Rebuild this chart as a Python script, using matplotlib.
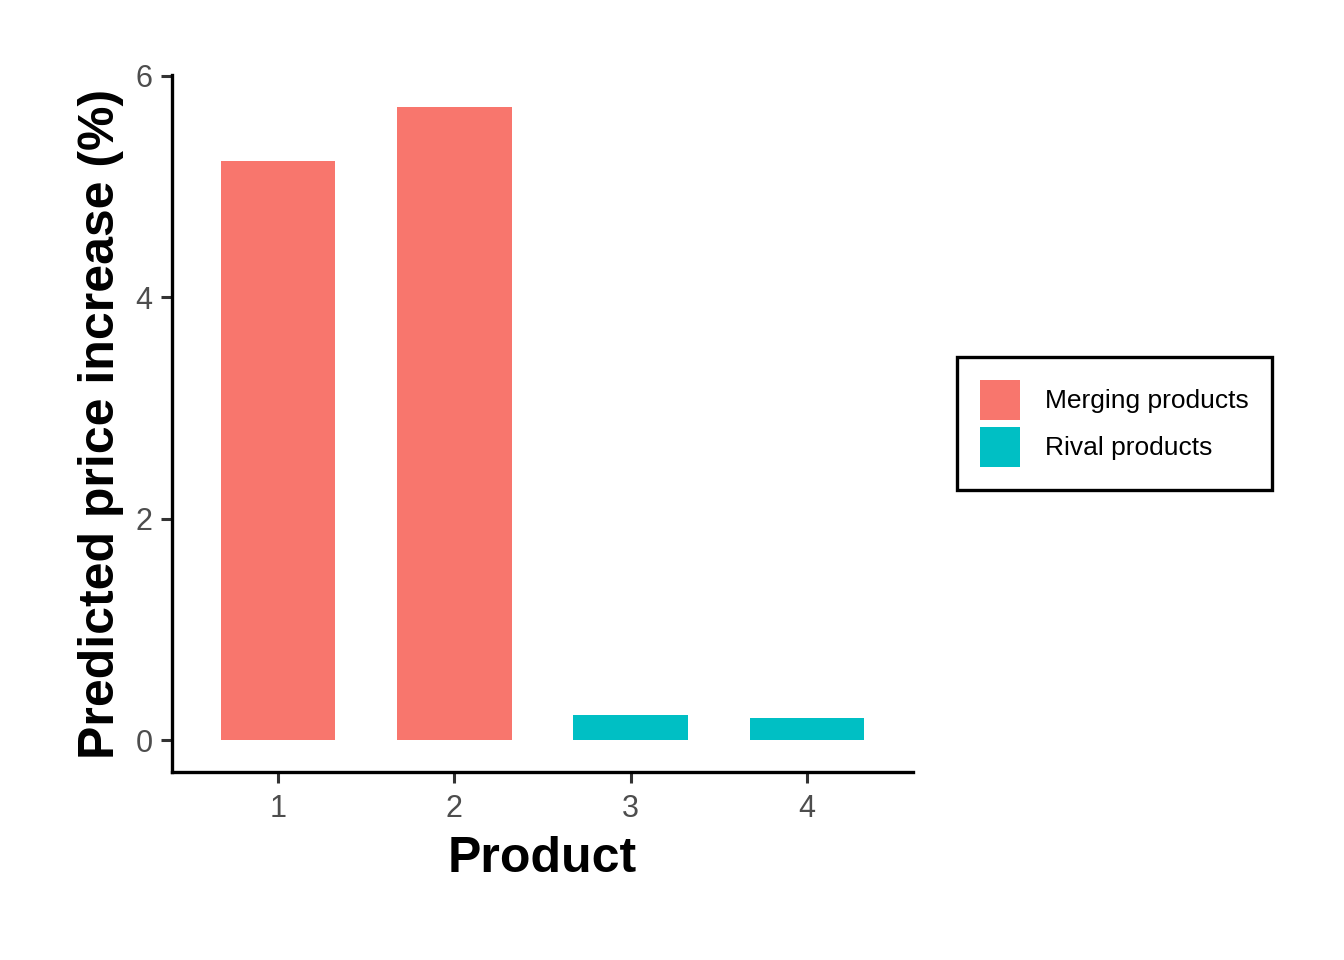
import matplotlib
matplotlib.use("Agg")
import matplotlib.pyplot as plt
from matplotlib.patches import Patch

products = ["1", "2", "3", "4"]
increase = [5.23, 5.72, 0.226, 0.199]
groups = ["Merging products", "Merging products", "Rival products", "Rival products"]
group_colors = {"Merging products": "#F8766D", "Rival products": "#00BFC4"}

plt.rcParams["font.family"] = ["Liberation Sans", "DejaVu Sans"]

fig = plt.figure(figsize=(13.44, 9.6), dpi=100)
ax = fig.add_axes([0.128, 0.1958, 0.5513, 0.7262])

xpos = list(range(1, len(products) + 1))
ax.bar(xpos, increase, width=0.65, color=[group_colors[g] for g in groups])

ax.set_xlim(0.4, 4.6)
ax.set_ylim(-0.286, 6.006)
ax.set_xticks(xpos)
ax.set_xticklabels(products)
ax.set_yticks([0, 2, 4, 6])

for s in ("top", "right"):
    ax.spines[s].set_visible(False)
for s in ("left", "bottom"):
    ax.spines[s].set_linewidth(2.4)
    ax.spines[s].set_color("black")

ax.tick_params(axis="both", length=8, width=2.2, color="#333333",
               labelsize=22, labelcolor="#4D4D4D")
ax.tick_params(axis="x", pad=7.5)
ax.tick_params(axis="y", pad=6)

ax.set_xlabel("Product", fontsize=36, fontweight="bold", labelpad=9)
ax.set_ylabel("Predicted price increase (%)", fontsize=36, fontweight="bold", labelpad=8)

handles = [Patch(facecolor=c, edgecolor="none", label=g) for g, c in group_colors.items()]
leg = fig.legend(handles=handles, loc="center left", bbox_to_anchor=(957 / 1344, 1 - 423.5 / 960),
                 fontsize=19, frameon=True, fancybox=False, framealpha=1,
                 handlelength=1.5, handleheight=1.954,
                 handletextpad=0.95, labelspacing=0.265, borderpad=0.88, borderaxespad=0)
leg.get_frame().set_edgecolor("black")
leg.get_frame().set_linewidth(2.4)

fig.savefig("out.png", dpi=100)
